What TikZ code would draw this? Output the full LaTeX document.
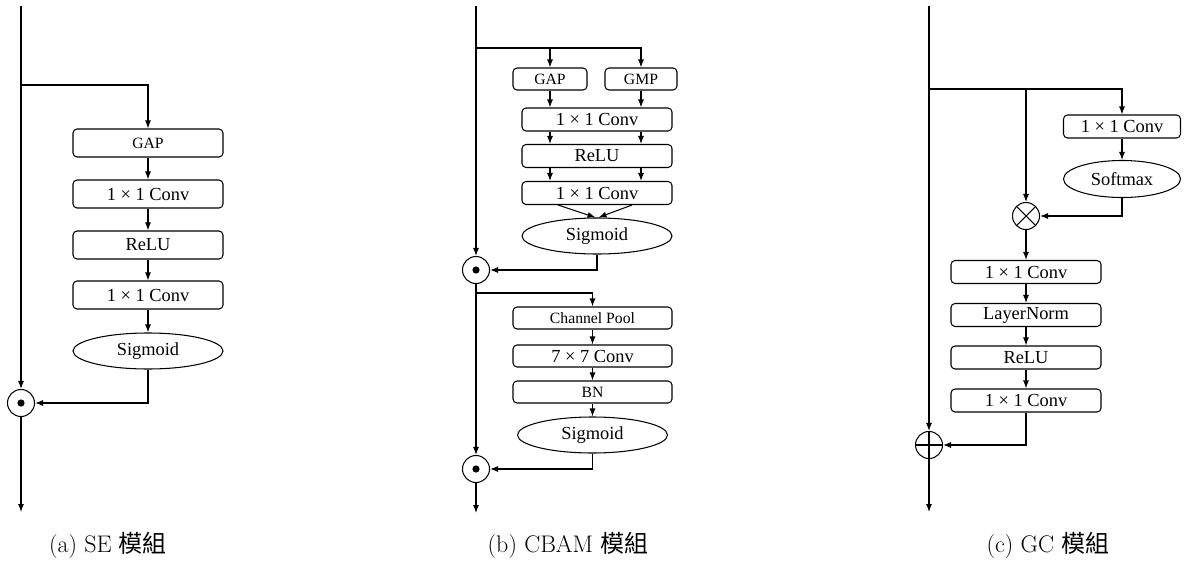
\documentclass[tikz,border=0pt]{standalone}
\usepackage{fontspec}
\newfontfamily\tnr{Liberation Serif}
\newfontfamily\cjk{Noto Sans CJK TC}
\usetikzlibrary{shapes.geometric,arrows.meta,calc}
\begin{document}
\begin{tikzpicture}[x=1pt,y=-1pt,
  line width=1.05pt,
  arr/.style={-{Latex[length=8pt,width=6pt]}},
  blk/.style={draw,rounded corners=4pt,inner sep=0pt,minimum height=28pt,minimum width=150pt,font=\tnr\fontsize{18.4}{20}\selectfont},
  sblk/.style={blk,font=\tnr\fontsize{15.7}{18}\selectfont},
  ell/.style={draw,ellipse,inner sep=0pt,minimum width=150pt,minimum height=36pt,font=\tnr\fontsize{18.4}{20}\selectfont},
  opc/.style={draw,circle,inner sep=0pt,minimum size=27pt},
  odot/.style={opc,path picture={\fill (path picture bounding box.center) circle (3.6pt);}},
  otimes/.style={opc,path picture={\draw (path picture bounding box.north west) -- (path picture bounding box.south east);
      \draw (path picture bounding box.north east) -- (path picture bounding box.south west);}},
  oplus/.style={opc,path picture={\draw (path picture bounding box.north) -- (path picture bounding box.south);
      \draw (path picture bounding box.west) -- (path picture bounding box.east);}},
  captxt/.style={font=\fontsize{24}{28}\selectfont}
]
\useasboundingbox (0,0) rectangle (1189,562);

% ---------------- (a) SE ----------------
\coordinate (aTop) at (21,6);
\coordinate (aBr) at (21,85);
\coordinate (aEnd) at (21,512);
\node[sblk] (a1) at (148,143) {GAP};
\node[blk] (a2) at (148,194) {1 × 1 Conv};
\node[blk] (a3) at (148,245) {ReLU};
\node[blk] (a4) at (148,295) {1 × 1 Conv};
\node[ell] (aS) at (148,351) {Sigmoid};
\node[odot] (aO) at (21,403) {};
\draw[arr] (aTop) -- (aO.north);
\draw[arr] (aBr) -| (a1.north);
\draw[arr] (a1) -- (a2);
\draw[arr] (a2) -- (a3);
\draw[arr] (a3) -- (a4);
\draw[arr] (a4) -- (aS);
\draw[arr] (aS.south) |- (aO.east);
\draw[arr] (aO.south) -- (aEnd);
\node[captxt] (aCap) at (108,545) {(a) SE {\cjk 模組}};

% ---------------- (b) CBAM ----------------
\coordinate (bTop) at (476,6);
\coordinate (bBr) at (476,48);
\coordinate (bBr2) at (476,293);
\coordinate (bEnd) at (476,513);
\node[sblk,minimum width=74pt,minimum height=22pt] (bGAP) at (550,79) {GAP};
\node[sblk,minimum width=72pt,minimum height=22pt] (bGMP) at (641,79) {GMP};
\node[blk,minimum height=23pt] (bC1) at (597,119.5) {1 × 1 Conv};
\node[blk,minimum height=23pt] (bR) at (597,156) {ReLU};
\node[blk,minimum height=23pt] (bC2) at (597,193) {1 × 1 Conv};
\node[ell] (bS) at (597,236) {Sigmoid};
\node[odot] (bO1) at (476,270) {};
\draw[arr] (bTop) -- (bO1.north);
\draw[arr] (bBr) -| (bGMP.north);
\draw[arr] (bGAP.north |- bBr) -- (bGAP.north);
\draw[arr] (bGAP.south) -- (bGAP.south |- bC1.north);
\draw[arr] (bGMP.south) -- (bGMP.south |- bC1.north);
\draw[arr] (bGAP.south |- bC1.south) -- (bGAP.south |- bR.north);
\draw[arr] (bGMP.south |- bC1.south) -- (bGMP.south |- bR.north);
\draw[arr] (bGAP.south |- bR.south) -- (bGAP.south |- bC2.north);
\draw[arr] (bGMP.south |- bR.south) -- (bGMP.south |- bC2.north);
\draw[arr] ($(bC2.south)+(-39,0)$) -- ($(bS.north)+(-1.5,0)$);
\draw[arr] ($(bC2.south)+(35,0)$) -- ($(bS.north)+(1.5,0)$);
\draw[arr] (bS.south) |- (bO1.east);

\node[sblk,minimum width=159pt,minimum height=22pt] (bCP) at (592.5,318) {Channel Pool};
\node[blk,minimum width=159pt,minimum height=22pt] (b77) at (592.5,356) {7 × 7 Conv};
\node[sblk,minimum width=159pt,minimum height=22pt] (bBN) at (592.5,392) {BN};
\node[ell] (bS2) at (592.5,435) {Sigmoid};
\node[odot] (bO2) at (476,469) {};
\draw[arr] (bO1.south) -- (bO2.north);
\draw[arr] (bBr2) -| (bCP.north);
\draw[arr] (bCP) -- (b77);
\draw[arr] (b77) -- (bBN);
\draw[arr] (bBN) -- (bS2);
\draw[arr] (bS2.south) |- (bO2.east);
\draw[arr] (bO2.south) -- (bEnd);
\node[captxt] (bCap) at (568,545) {(b) CBAM {\cjk 模組}};

% ---------------- (c) GC ----------------
\coordinate (cTop) at (929,6);
\coordinate (cBr) at (929,89);
\coordinate (cEnd) at (929,512);
\node[blk,minimum width=117pt,minimum height=23pt] (cC0) at (1122,126.5) {1 × 1 Conv};
\node[ell,minimum width=117pt,minimum height=37pt] (cSm) at (1122,179) {Softmax};
\node[otimes] (cO) at (1026,216) {};
\node[blk,minimum height=23pt] (cC1) at (1026,272) {1 × 1 Conv};
\node[blk,minimum height=23pt] (cLN) at (1026,315) {LayerNorm};
\node[blk,minimum height=23pt] (cR) at (1026,357.5) {ReLU};
\node[blk,minimum height=23pt] (cC2) at (1026,400.5) {1 × 1 Conv};
\node[oplus] (cP) at (929,445) {};
\draw[arr] (cTop) -- (cP.north);
\draw[arr] (cBr) -| (cC0.north);
\draw[arr] (cO.north |- cBr) -- (cO.north);
\draw[arr] (cC0) -- (cSm);
\draw[arr] (cSm.south) |- (cO.east);
\draw[arr] (cO.south) -- (cC1.north);
\draw[arr] (cC1) -- (cLN);
\draw[arr] (cLN) -- (cR);
\draw[arr] (cR) -- (cC2);
\draw[arr] (cC2.south) |- (cP.east);
\draw[arr] (cP.south) -- (cEnd);
\node[captxt] (cCap) at (1048,545) {(c) GC {\cjk 模組}};
\end{tikzpicture}
\end{document}
